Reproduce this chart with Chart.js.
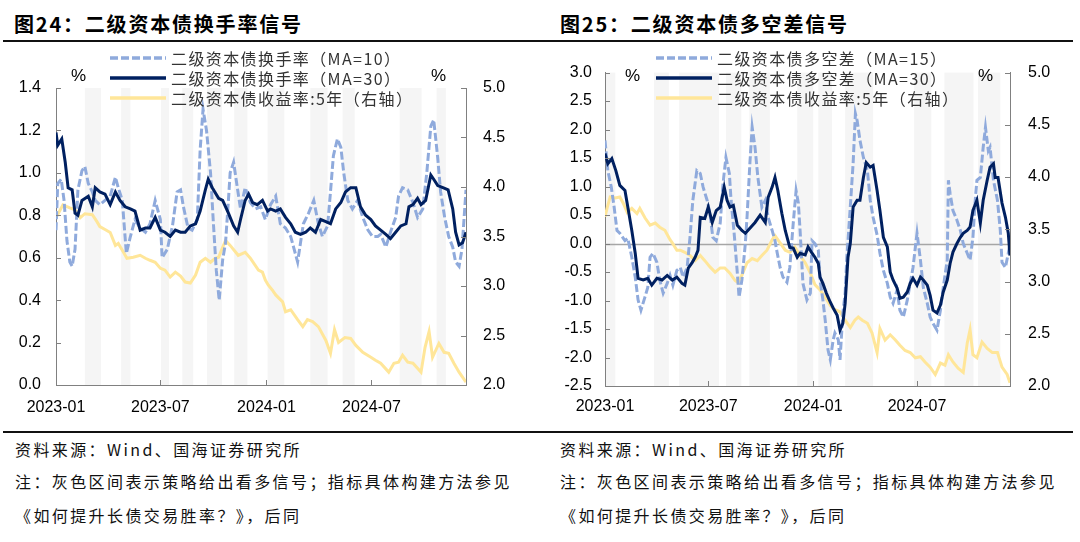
<!DOCTYPE html>
<html>
<head>
<meta charset="utf-8">
<script src="https://cdn.jsdelivr.net/npm/chart.js@4.4.0/dist/chart.umd.min.js"></script>
<style>
  body { margin: 0; background: #fff; }
  #page { position: relative; width: 1080px; height: 542px; overflow: hidden; font-family: 'Noto Sans CJK SC', sans-serif; }
  .title { position: absolute; top: 12px; font-size: 20px; font-weight: bold; letter-spacing: 1.8px; color: #000; line-height: 24px; white-space: nowrap; }
  .rule { position: absolute; left: 3px; width: 1070px; height: 2px; background: #111; }
  canvas { position: absolute; top: 45px; }
  .legend { position: absolute; top: 48px; font-size: 16px; color: #333; letter-spacing: 1.4px; }
  .legend div { height: 20px; display: flex; align-items: center; white-space: nowrap; }
  .legend svg { margin-right: 5px; }
  .unit { position: absolute; top: 66px; font-family: 'Liberation Sans', Arial, sans-serif; font-size: 17px; line-height: 20px; color: #000; }
  .note { position: absolute; font-size: 16px; letter-spacing: 2.4px; color: #111; white-space: nowrap; line-height: 20px; }
</style>
</head>
<body>
<div id="page">
  <div class="title" style="left:14px">图24：二级资本债换手率信号</div>
  <div class="title" style="left:560px">图25：二级资本债多空差信号</div>
  <div class="rule" style="top:40px"></div>

  <canvas id="turnChart" width="540" height="385" style="left:0"></canvas>
  <canvas id="spreadChart" width="540" height="385" style="left:540px"></canvas>

  <div class="legend" id="turnLegend" style="left:110px"></div>
  <div class="legend" id="spreadLegend" style="left:656px"></div>

  <span class="unit" style="left:71px">%</span>
  <span class="unit" style="left:431px">%</span>
  <span class="unit" style="left:625px">%</span>
  <span class="unit" style="left:978px">%</span>

  <div class="rule" style="top:431px"></div>
  <div class="note" style="left:15px;top:439px">资料来源：Wind、国海证券研究所</div>
  <div class="note" style="left:15px;top:471px">注：灰色区间表示策略给出看多信号；指标具体构建方法参见</div>
  <div class="note" style="left:15px;top:505px">《如何提升长债交易胜率？》，后同</div>
  <div class="note" style="left:560px;top:439px">资料来源：Wind、国海证券研究所</div>
  <div class="note" style="left:560px;top:471px">注：灰色区间表示策略给出看多信号；指标具体构建方法参见</div>
  <div class="note" style="left:560px;top:505px">《如何提升长债交易胜率？》，后同</div>
</div>

<script>
// x 轴：2023-01-01 起的天数
const tickDays = [0, 181, 365, 547];
const tickLabels = ['2023-01', '2023-07', '2024-01', '2024-07'];

// 图24 换手率
const turnDays10 = [0,3,9,14,19,24,28,33,38,45,50,56,63,68,76,85,94,103,108,115,122,129,137,146,155,163,172,181,184,193,202,210,216,221,229,236,245,250,255,261,268,273,278,283,289,294,299,302,308,315,320,328,337,346,355,363,372,381,389,398,407,412,419,424,429,438,447,455,462,471,476,481,488,494,499,506,514,523,532,541,549,558,563,572,580,589,594,601,610,619,627,636,643,650,655,662,667,674,681,688,693,699,704,711];
const turnMa10 = [0.73,0.95,0.97,0.87,0.68,0.58,0.56,0.64,0.92,1.01,1.03,0.95,0.91,0.87,0.85,0.87,0.89,0.98,0.93,0.87,0.62,0.70,0.78,0.74,0.72,0.76,0.87,0.78,0.60,0.64,0.75,0.91,0.92,0.84,0.74,0.73,0.78,1.11,1.30,1.20,1.00,0.76,0.54,0.40,0.59,0.67,0.87,1.00,1.05,0.92,0.83,0.93,0.86,0.83,0.84,0.78,0.85,0.89,0.76,0.74,0.70,0.65,0.58,0.67,0.76,0.81,0.87,0.76,0.70,0.75,0.91,1.08,1.16,1.12,1.00,0.87,0.83,0.87,0.79,0.73,0.70,0.70,0.71,0.65,0.72,0.79,0.89,0.93,0.92,0.86,0.79,0.83,1.00,1.22,1.25,1.07,0.91,0.79,0.70,0.65,0.58,0.56,0.64,0.92];

const turnDays30 = [0,3,10,16,21,28,33,38,45,56,63,68,76,85,94,103,111,120,129,137,146,155,163,172,181,189,198,207,216,224,233,242,250,259,264,271,282,289,299,308,315,320,328,334,341,349,358,367,372,381,389,398,407,415,424,433,441,450,459,468,476,485,494,502,511,520,528,537,546,554,563,572,580,589,598,607,612,619,627,633,641,650,655,662,671,680,688,693,699,705,711];
const turnMa30 = [1.19,1.13,1.16,1.05,0.93,0.92,0.81,0.80,0.87,0.89,0.84,0.93,0.91,0.90,0.85,0.91,0.87,0.84,0.83,0.82,0.73,0.74,0.74,0.79,0.73,0.72,0.70,0.73,0.72,0.72,0.75,0.76,0.82,0.92,0.97,0.93,0.88,0.87,0.81,0.75,0.72,0.78,0.87,0.90,0.86,0.85,0.87,0.82,0.83,0.82,0.83,0.79,0.76,0.72,0.71,0.72,0.74,0.72,0.78,0.77,0.76,0.83,0.86,0.91,0.93,0.93,0.84,0.80,0.78,0.75,0.73,0.71,0.69,0.72,0.75,0.76,0.84,0.85,0.88,0.85,0.87,0.99,0.97,0.94,0.93,0.92,0.83,0.72,0.66,0.67,0.72];

const yieldDaysL = [0,12,24,33,42,50,63,71,76,85,94,103,108,115,123,134,146,155,163,172,181,189,198,207,216,224,233,242,250,259,268,276,282,289,294,302,316,328,337,351,358,363,368,375,381,393,398,407,419,428,436,445,455,468,476,483,490,501,511,520,532,546,554,563,577,586,594,601,610,619,633,640,647,653,664,673,681,690,699,711];
const yieldL = [3.69,3.82,3.79,3.77,3.69,3.73,3.72,3.65,3.60,3.57,3.54,3.41,3.43,3.36,3.28,3.29,3.31,3.28,3.26,3.24,3.18,3.16,3.09,3.14,3.10,3.04,3.03,3.11,3.24,3.28,3.24,3.28,3.29,3.39,3.46,3.41,3.31,3.34,3.28,3.16,3.14,3.06,3.01,2.96,2.91,2.84,2.74,2.76,2.66,2.59,2.66,2.64,2.59,2.45,2.32,2.56,2.43,2.48,2.47,2.40,2.33,2.28,2.25,2.22,2.13,2.22,2.23,2.30,2.23,2.22,2.13,2.38,2.54,2.28,2.42,2.33,2.32,2.22,2.13,2.03];

// 看多信号区间（天）
const turnBands = [[50,78],[113,129],[182,196],[219,238],[262,288],[309,332],[367,396],[441,471],[497,518],[596,634],[660,676]];

// 图25 多空差
const spreadDays15 = [0,5,11,16,21,26,35,40,47,53,58,63,70,75,79,84,91,96,102,109,114,119,126,132,137,144,149,154,161,167,172,179,184,189,195,202,207,212,218,221,226,232,235,240,246,249,254,258,263,268,275,281,286,293,298,302,307,312,319,324,330,335,339,342,347,354,360,363,368,374,377,382,386,391,395,400,403,409,412,417,421,424,430,435,439,442,447,453,460,465,470,477,482,488,495,500,505,512,517,523,530,535,540,544,547,553,558,565,570,575,582,588,593,600,602,605,610,617,623,628,635,640,645,649,652,658,663,667,672,675,681,688,693,696,702,707,710];
const spreadMa15 = [1.81,1.28,0.99,0.64,0.23,0.18,0.05,0.09,-0.24,-0.59,-0.99,-1.17,-0.94,-0.77,-0.24,-0.17,-0.33,-0.64,-0.87,-0.70,-0.56,-0.73,-0.47,-0.42,-0.59,-0.42,0.11,0.76,1.28,1.23,0.99,0.76,0.53,0.11,0.05,0.36,1.06,1.51,1.23,0.76,0.23,-0.52,-0.94,-0.64,0.00,0.46,1.41,2.04,1.69,1.16,0.64,0.76,0.46,0.23,0.05,-0.17,-0.42,-0.59,-0.68,-0.42,0.36,0.93,0.71,0.23,-0.70,-0.99,-0.87,0.05,0.00,-0.12,-0.64,-0.99,-1.34,-1.87,-2.04,-1.69,-1.57,-1.69,-2.04,-1.22,-0.87,-0.24,0.64,1.41,2.28,2.16,1.81,1.51,1.28,0.76,0.46,0.15,-0.17,-0.47,-0.70,-0.94,-1.05,-0.82,-1.17,-1.29,-0.99,-0.70,-0.42,-0.07,0.18,-0.29,-0.77,-1.05,-1.29,-1.40,-1.52,-1.17,-0.77,-0.29,1.11,0.88,0.58,0.41,0.23,0.00,-0.17,-0.29,0.11,0.76,1.11,1.16,1.69,2.04,1.63,1.69,1.11,0.76,0.23,-0.33,-0.42,-0.17,0.00];

const spreadDays30 = [0,5,12,19,26,35,40,47,53,58,67,75,82,91,100,109,118,126,135,140,146,153,158,163,167,175,181,188,195,202,209,214,219,225,232,240,246,254,263,272,281,286,293,298,303,310,316,324,330,337,342,351,356,363,368,374,377,382,388,395,400,407,412,417,421,426,430,435,442,447,453,458,465,470,477,482,488,495,500,505,512,517,523,530,535,540,547,553,558,565,570,575,582,588,593,600,605,610,617,623,628,635,640,645,652,658,663,670,675,681,684,689,696,702,707,710];
const spreadMa30 = [1.58,1.40,1.49,1.28,1.02,0.93,0.64,0.23,-0.17,-0.61,-0.64,-0.61,-0.73,-0.61,-0.64,-0.56,-0.64,-0.59,-0.70,-0.73,-0.43,-0.33,-0.24,-0.12,0.46,0.44,0.64,0.37,0.58,0.64,0.99,0.76,0.64,0.67,0.32,0.23,0.18,0.27,0.37,0.50,0.37,0.81,0.99,1.16,0.93,0.53,0.23,-0.07,-0.08,-0.24,-0.17,-0.20,-0.06,-0.17,-0.24,-0.35,-0.59,-0.70,-0.87,-1.03,-1.13,-1.26,-1.52,-1.40,-1.05,-0.24,0.00,0.64,0.76,0.76,1.16,1.42,1.34,1.37,0.93,0.58,0.11,-0.06,-0.50,-0.64,-0.78,-0.96,-0.94,-0.85,-0.70,-0.61,-0.73,-0.59,-0.64,-0.73,-0.91,-1.17,-1.22,-1.08,-0.85,-0.64,-0.35,-0.15,0.00,0.11,0.18,0.23,0.29,0.58,0.76,0.36,0.76,1.11,1.34,1.40,1.16,1.16,0.71,0.46,0.18,-0.21];

const yieldDaysR = [0,4,9,18,26,32,39,47,56,61,70,79,88,96,105,114,118,126,132,140,149,158,167,175,184,193,202,210,219,228,233,240,249,258,267,275,284,293,298,307,316,324,333,342,351,360,368,377,386,395,403,412,421,430,438,444,451,460,468,477,482,491,500,509,517,526,535,544,553,561,570,579,588,596,602,610,619,628,635,640,645,652,661,670,679,688,696,705,710];
const yieldR = [3.62,3.71,3.81,3.80,3.81,3.75,3.66,3.70,3.65,3.70,3.61,3.54,3.56,3.52,3.49,3.40,3.37,3.30,3.30,3.28,3.25,3.20,3.25,3.20,3.14,3.09,3.13,3.13,3.08,3.01,2.99,3.06,3.18,3.22,3.20,3.25,3.30,3.40,3.44,3.37,3.30,3.28,3.33,3.25,3.18,3.08,2.97,2.92,2.85,2.77,2.73,2.71,2.63,2.56,2.63,2.66,2.63,2.60,2.51,2.32,2.55,2.44,2.49,2.44,2.39,2.34,2.32,2.27,2.28,2.23,2.18,2.11,2.22,2.20,2.30,2.23,2.17,2.13,2.41,2.54,2.30,2.27,2.42,2.36,2.32,2.32,2.18,2.11,2.03];

const spreadBands = [[0,18],[86,112],[130,200],[212,239],[253,289],[337,365],[374,398],[421,470],[542,572],[595,646],[654,693]];

const axisColor = '#808080';
const navy = '#002060';
const lightBlue = '#8FAADC';
const yellow = '#FFE699';

Chart.defaults.font.family = "'Liberation Sans', Arial, sans-serif";
Chart.defaults.font.size = 16;
Chart.defaults.color = '#000';

function series(days, vals) {
  return days.map((d, i) => ({ x: d, y: vals[i] }));
}

// 灰色区间 + 零线 + 向内刻度
const decorPlugin = {
  id: 'decor',
  beforeDraw(chart, args, opts) {
    const { ctx, chartArea: a, scales: { x } } = chart;
    ctx.save();
    ctx.fillStyle = '#F5F5F5';
    opts.bands.forEach(([s, e]) => {
      const x0 = x.getPixelForValue(s);
      const x1 = x.getPixelForValue(e);
      ctx.fillRect(x0, a.top, x1 - x0, a.bottom - a.top);
    });
    ctx.restore();
  },
  beforeDatasetsDraw(chart, args, opts) {
    if (!opts.zeroLine) return;
    const { ctx, chartArea: a, scales: { y } } = chart;
    const p = Math.round(y.getPixelForValue(0)) + 0.5;
    ctx.save();
    ctx.strokeStyle = '#A6A6A6';
    ctx.lineWidth = 1.5;
    ctx.beginPath();
    ctx.moveTo(a.left, p);
    ctx.lineTo(a.right, p);
    ctx.stroke();
    ctx.restore();
  },
  afterDraw(chart) {
    const { ctx, chartArea: a, scales } = chart;
    ctx.save();
    ctx.strokeStyle = axisColor;
    ctx.lineWidth = 1;
    ctx.beginPath();
    scales.x.ticks.forEach(t => {
      const p = Math.round(scales.x.getPixelForValue(t.value)) + 0.5;
      ctx.moveTo(p, a.bottom);
      ctx.lineTo(p, a.bottom - 5);
    });
    scales.y.ticks.forEach(t => {
      const p = Math.round(scales.y.getPixelForValue(t.value)) + 0.5;
      ctx.moveTo(a.left, p);
      ctx.lineTo(a.left + 5, p);
    });
    scales.y1.ticks.forEach(t => {
      const p = Math.round(scales.y1.getPixelForValue(t.value)) + 0.5;
      ctx.moveTo(a.right, p);
      ctx.lineTo(a.right - 5, p);
    });
    ctx.stroke();
    ctx.restore();
  }
};

function makeOptions(cfg) {
  const grid = { display: true, drawOnChartArea: false, drawTicks: false };
  const border = { display: true, color: axisColor, width: 1 };
  return {
    responsive: false,
    animation: false,
    events: [],
    layout: { padding: { top: cfg.padTop, left: 0, right: 0, bottom: 0 } },
    elements: { point: { radius: 0 }, line: { tension: 0, borderWidth: 3 } },
    plugins: {
      legend: { display: false },
      tooltip: { enabled: false },
      decor: { bands: cfg.bands, zeroLine: cfg.zeroLine }
    },
    scales: {
      x: {
        type: 'linear', min: 0, max: cfg.xMax,
        grid, border,
        afterBuildTicks: s => { s.ticks = tickDays.map(v => ({ value: v })); },
        ticks: { padding: cfg.xPad, maxRotation: 0, callback: v => tickLabels[tickDays.indexOf(v)] },
        afterFit: s => { s.height = cfg.xH; }
      },
      y: {
        position: 'left', min: cfg.yMin, max: cfg.yMax,
        grid, border,
        ticks: { stepSize: cfg.yStep, padding: cfg.yPad, maxTicksLimit: 20, callback: v => v.toFixed(1) },
        afterFit: s => { s.width = cfg.leftW; }
      },
      y1: {
        position: 'right', min: 2, max: 5,
        grid, border,
        ticks: { stepSize: 0.5, padding: cfg.y1Pad, maxTicksLimit: 20, callback: v => v.toFixed(1) },
        afterFit: s => { s.width = cfg.rightW; }
      }
    }
  };
}

function buildLegend(el, chart) {
  chart.data.datasets.forEach(ds => {
    const row = document.createElement('div');
    const dash = ds.borderDash ? ds.borderDash.join(',') : 'none';
    row.innerHTML = '<svg width="56" height="20"><line x1="0" y1="10" x2="56" y2="10" stroke="' + ds.borderColor +
      '" stroke-width="3.5" stroke-dasharray="' + dash + '"/></svg><span>' + ds.label + '</span>';
    el.appendChild(row);
  });
}

const turnChart = new Chart(document.getElementById('turnChart'), {
  type: 'line',
  data: {
    datasets: [
      { label: '二级资本债换手率（MA=10）', data: series(turnDays10, turnMa10), borderColor: lightBlue, borderDash: [8, 3], yAxisID: 'y', order: 1 },
      { label: '二级资本债换手率（MA=30）', data: series(turnDays30, turnMa30), borderColor: navy, yAxisID: 'y', order: 0 },
      { label: '二级资本债收益率:5年（右轴）', data: series(yieldDaysL, yieldL), borderColor: yellow, yAxisID: 'y1', order: 2 }
    ]
  },
  options: makeOptions({ padTop: 43, xMax: 711, xH: 45, xPad: 13, yMin: 0, yMax: 1.4, yStep: 0.2, leftW: 56, rightW: 74, yPad: 15, y1Pad: 17, bands: turnBands, zeroLine: false }),
  plugins: [decorPlugin]
});

const spreadChart = new Chart(document.getElementById('spreadChart'), {
  type: 'line',
  data: {
    datasets: [
      { label: '二级资本债多空差（MA=15）', data: series(spreadDays15, spreadMa15), borderColor: lightBlue, borderDash: [8, 3], yAxisID: 'y', order: 1 },
      { label: '二级资本债多空差（MA=30）', data: series(spreadDays30, spreadMa30), borderColor: navy, yAxisID: 'y', order: 0 },
      { label: '二级资本债收益率:5年（右轴）', data: series(yieldDaysR, yieldR), borderColor: yellow, yAxisID: 'y1', order: 2 }
    ]
  },
  options: makeOptions({ padTop: 27, xMax: 710, xH: 44, xPad: 11, yMin: -2.5, yMax: 3.0, yStep: 0.5, leftW: 65, rightW: 70, yPad: 13, y1Pad: 18, bands: spreadBands, zeroLine: true }),
  plugins: [decorPlugin]
});

buildLegend(document.getElementById('turnLegend'), turnChart);
buildLegend(document.getElementById('spreadLegend'), spreadChart);
</script>
</body>
</html>
